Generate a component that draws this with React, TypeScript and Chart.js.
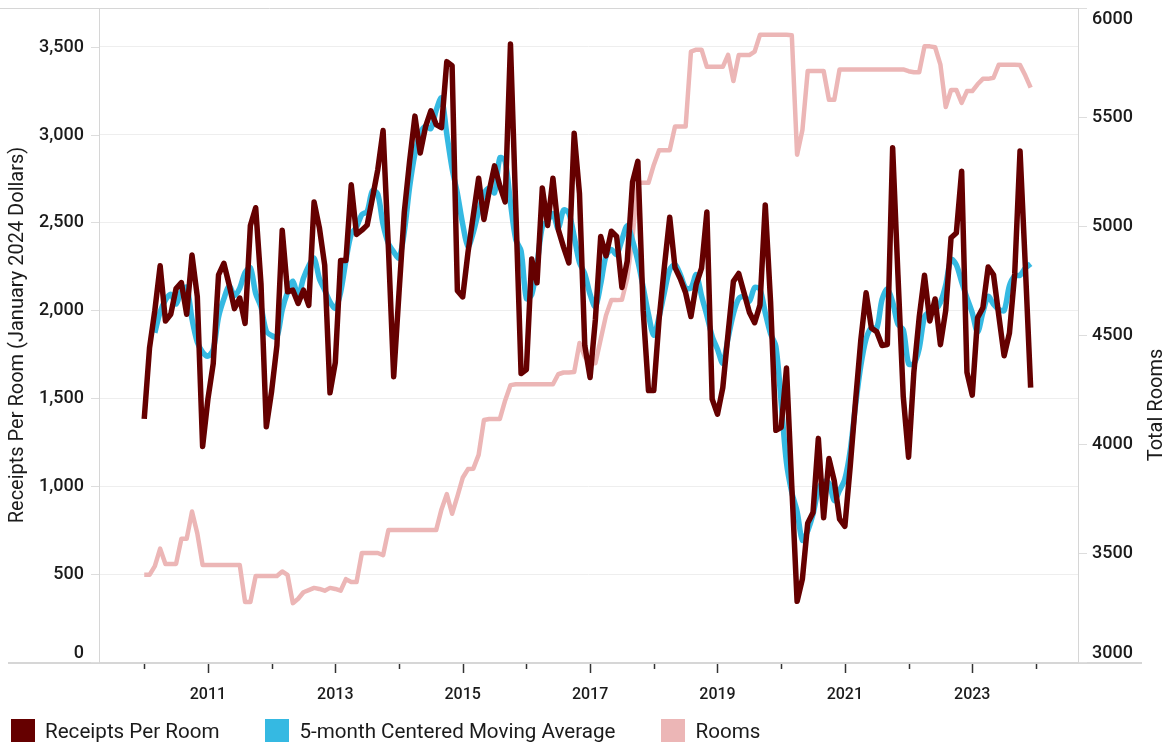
import { useEffect, useRef } from 'react';
import { Chart, registerables } from 'chart.js';

Chart.register(...registerables);

// ---- data (monthly, Jan 2010 – Dec 2023) ----
const START_YEAR = 2010;

const receipts = [
  1383, 1787, 2000, 2254, 1940, 1978, 2124, 2158, 1978, 2315,
  2079, 1226, 1495, 1697, 2202, 2268, 2146, 2010, 2070, 1926,
  2483, 2584, 2150, 1338, 1540, 1800, 2456, 2106, 2115, 2040,
  2115, 2028, 2616, 2470, 2258, 1531, 1704, 2284, 2284, 2714,
  2432, 2456, 2485, 2640, 2800, 3023, 2357, 1623, 2100, 2560,
  2850, 3105, 2895, 3045, 3135, 3057, 3040, 3415, 3392, 2112,
  2077, 2330, 2540, 2752, 2517, 2680, 2822, 2708, 2617, 3515,
  2580, 1641, 1664, 2292, 2157, 2696, 2483, 2752, 2461, 2360,
  2270, 3007, 2665, 1800, 1618, 1950, 2420, 2310, 2450, 2420,
  2130, 2280, 2730, 2848, 2000, 1544, 1544, 1950, 2250, 2530,
  2243, 2180, 2100, 1965, 2150, 2240, 2560, 1495, 1410, 1560,
  1870, 2165, 2210, 2100, 1990, 1930, 2030, 2600, 2050, 1318,
  1335, 1672, 1000, 345, 473, 790, 850, 1272, 820, 1157,
  1030, 813, 772, 1110, 1480, 1830, 2100, 1900, 1878, 1800,
  1806, 2925, 2200, 1510, 1165, 1650, 1960, 2200, 1940, 2065,
  1805, 2000, 2413, 2440, 2792, 1648, 1518, 1958, 2015, 2247,
  2203, 1970, 1742, 1870, 2210, 2907, 2250, 1560,
];

const movingAverage = [
  null, null, 1873, 1992, 2059, 2091, 2036, 2111, 2131, 1951,
  1819, 1762, 1740, 1778, 1962, 2065, 2139, 2084, 2127, 2215,
  2243, 2096, 2019, 1882, 1857, 1848, 2003, 2103, 2166, 2081,
  2183, 2254, 2297, 2181, 2116, 2049, 2012, 2103, 2284, 2434,
  2474, 2545, 2563, 2681, 2661, 2489, 2381, 2333, 2298, 2448,
  2702, 2891, 3006, 3047, 3034, 3138, 3208, 3003, 2807, 2665,
  2490, 2362, 2443, 2564, 2662, 2696, 2669, 2868, 2848, 2612,
  2403, 2338, 2067, 2090, 2258, 2476, 2510, 2550, 2465, 2570,
  2553, 2420, 2272, 2208, 2091, 2020, 2150, 2310, 2346, 2318,
  2402, 2482, 2398, 2280, 2133, 1977, 1858, 1964, 2103, 2231,
  2261, 2204, 2128, 2127, 2203, 2082, 1971, 1853, 1779, 1700,
  1843, 1981, 2067, 2079, 2052, 2130, 2120, 1986, 1867, 1795,
  1475, 1134, 965, 856, 692, 746, 841, 978, 1026, 1018,
  918, 976, 1041, 1201, 1458, 1684, 1838, 1902, 1897, 2062,
  2122, 2048, 1921, 1890, 1697, 1697, 1783, 1963, 1994, 2002,
  2045, 2145, 2290, 2259, 2162, 2071, 1986, 1877, 1988, 2079,
  2035, 2006, 1999, 2140, 2196, 2200, 2240, 2265,
];

const rooms = [
  3400, 3400, 3440, 3520, 3450, 3450, 3450, 3565, 3565, 3690,
  3590, 3445, 3445, 3445, 3445, 3445, 3445, 3445, 3445, 3275,
  3275, 3395, 3395, 3395, 3395, 3395, 3415, 3400, 3270, 3290,
  3320, 3330, 3340, 3335, 3327, 3340, 3335, 3327, 3380, 3367,
  3367, 3500, 3500, 3500, 3500, 3490, 3605, 3605, 3605, 3605,
  3605, 3605, 3605, 3605, 3605, 3605, 3700, 3770, 3680, 3760,
  3845, 3885, 3887, 3950, 4110, 4115, 4115, 4115, 4200, 4270,
  4274, 4274, 4274, 4274, 4274, 4274, 4274, 4274, 4320, 4328,
  4328, 4330, 4463, 4400, 4370, 4370, 4480, 4590, 4660, 4660,
  4662, 4760, 4950, 5198, 5198, 5198, 5280, 5347, 5347, 5347,
  5456, 5456, 5456, 5800, 5809, 5809, 5730, 5730, 5730, 5730,
  5785, 5665, 5784, 5784, 5784, 5800, 5877, 5877, 5877, 5877,
  5877, 5877, 5875, 5327, 5440, 5711, 5711, 5711, 5711, 5579,
  5579, 5718, 5718, 5718, 5718, 5718, 5718, 5718, 5718, 5718,
  5718, 5718, 5718, 5718, 5710, 5705, 5705, 5824, 5824, 5820,
  5740, 5546, 5624, 5624, 5565, 5619, 5619, 5650, 5675, 5675,
  5680, 5740, 5740, 5740, 5740, 5738, 5690, 5635,
];

const seriesLabels = ['Receipts Per Room', '5-month Centered Moving Average', 'Rooms'];
const tickYears = [2010, 2011, 2012, 2013, 2014, 2015, 2016, 2017, 2018, 2019, 2020, 2021, 2022, 2023, 2024];
const leftTicks = [0, 500, 1000, 1500, 2000, 2500, 3000, 3500];
const rightTicks = [3000, 3500, 4000, 4500, 5000, 5500, 6000];
const leftTitle = 'Receipts Per Room (January 2024 Dollars)';
const rightTitle = 'Total Rooms';

// ---- styling ----
const W = 1163;
const H = 742;
const FONT = 'Roboto, "Noto Sans", sans-serif';
const TEXT = '#1b1b1b';
const COLORS = ['#650000', '#35b9e2', '#ecb6b6'];
const FRAME = '#d6d6d6';
const GRID = '#eeeeee';
const X_MIN = 2009.29;
const X_MAX = 2024.66;
const LEFT_MIN = 0;
const LEFT_MAX = 3720;
const RIGHT_MIN = 3000;
const RIGHT_MAX = 6000;

const toPoints = (arr: (number | null)[]) =>
  arr.map((v, i) => ({ x: START_YEAR + i / 12, y: v }));

const setTicks = (values: number[]) => (s: any) => {
  s.ticks = values.map((value) => ({ value }));
};

const decorPlugin = {
  id: 'decor',
  afterDraw(chart: any) {
    const { ctx, chartArea: a, scales } = chart;
    ctx.save();

    // frame
    ctx.strokeStyle = FRAME;
    ctx.lineWidth = 1;
    ctx.beginPath();
    ctx.moveTo(0, a.top + 0.5);
    ctx.lineTo(a.right + 0.5, a.top + 0.5);
    ctx.moveTo(a.left + 0.5, a.top);
    ctx.lineTo(a.left + 0.5, a.bottom);
    ctx.moveTo(a.right + 0.5, a.top);
    ctx.lineTo(a.right + 0.5, a.bottom);
    ctx.stroke();
    ctx.lineWidth = 2;
    ctx.beginPath();
    ctx.moveTo(8, a.bottom + 1);
    ctx.lineTo(W - 21, a.bottom + 1);
    ctx.stroke();

    // x tick marks
    const xs = scales.x;
    ctx.strokeStyle = '#333333';
    ctx.lineWidth = 1.5;
    for (const yr of tickYears) {
      const px = Math.round(xs.getPixelForValue(yr)) + 0.5;
      const len = yr % 2 === 1 ? 9 : 5;
      ctx.beginPath();
      ctx.moveTo(px, a.bottom + 2);
      ctx.lineTo(px, a.bottom + 2 + len);
      ctx.stroke();
    }

    // y tick marks + labels
    const clampY = (y: number) => Math.min(Math.max(y, a.top + 11), a.bottom - 9);
    ctx.font = `500 18px ${FONT}`;
    ctx.fillStyle = TEXT;
    ctx.textBaseline = 'middle';

    const yl = scales.y;
    ctx.textAlign = 'right';
    for (const v of leftTicks) {
      const py = Math.round(yl.getPixelForValue(v)) + 0.5;
      ctx.strokeStyle = '#dddddd';
      ctx.lineWidth = 1;
      ctx.beginPath();
      ctx.moveTo(a.left - 8, py);
      ctx.lineTo(a.left, py);
      ctx.stroke();
      ctx.fillText(v.toLocaleString('en-US'), a.left - 15, clampY(py));
    }

    const yr = scales.y1;
    ctx.textAlign = 'left';
    for (const v of rightTicks) {
      const py = Math.round(yr.getPixelForValue(v)) + 0.5;
      ctx.strokeStyle = '#dddddd';
      ctx.lineWidth = 1;
      ctx.beginPath();
      ctx.moveTo(a.right + 1, py);
      ctx.lineTo(a.right + 9, py);
      ctx.stroke();
      ctx.fillText(String(v), a.right + 14, clampY(py));
    }

    // axis titles
    ctx.font = `20px ${FONT}`;
    ctx.textAlign = 'center';
    ctx.save();
    ctx.translate(17.5, (a.top + a.bottom) / 2);
    ctx.rotate(-Math.PI / 2);
    ctx.textBaseline = 'middle';
    ctx.fillText(leftTitle, 0, 0);
    ctx.restore();

    ctx.save();
    ctx.translate(W - 1, 405);
    ctx.rotate(-Math.PI / 2);
    ctx.textBaseline = 'alphabetic';
    ctx.fillText(rightTitle, 0, 0);
    ctx.restore();

    ctx.restore();
  },
};

export default function App() {
  const ref = useRef<HTMLCanvasElement>(null);

  useEffect(() => {
    if (!ref.current) return;
    const chart = new Chart(ref.current, {
      type: 'line',
      data: {
        datasets: [
          {
            label: seriesLabels[0],
            data: toPoints(receipts),
            yAxisID: 'y',
            borderColor: COLORS[0],
            backgroundColor: COLORS[0],
            borderWidth: 5.5,
            pointRadius: 0,
            tension: 0,
            borderJoinStyle: 'round',
            order: 0,
          },
          {
            label: seriesLabels[1],
            data: toPoints(movingAverage),
            yAxisID: 'y',
            borderColor: COLORS[1],
            backgroundColor: COLORS[1],
            borderWidth: 5.5,
            pointRadius: 0,
            tension: 0.3,
            borderJoinStyle: 'round',
            order: 1,
          },
          {
            label: seriesLabels[2],
            data: toPoints(rooms),
            yAxisID: 'y1',
            borderColor: COLORS[2],
            backgroundColor: COLORS[2],
            borderWidth: 4.5,
            pointRadius: 0,
            tension: 0,
            borderJoinStyle: 'round',
            order: 2,
          },
        ],
      },
      options: {
        animation: false,
        responsive: false,
        devicePixelRatio: 1,
        layout: { padding: { top: 8, left: 0, right: 0, bottom: 0 } },
        plugins: { legend: { display: false }, tooltip: { enabled: false } },
        scales: {
          x: {
            type: 'linear',
            min: X_MIN,
            max: X_MAX,
            grid: { display: false },
            border: { display: false },
            afterBuildTicks: setTicks(tickYears),
            ticks: {
              autoSkip: false,
              maxRotation: 0,
              padding: 15,
              color: TEXT,
              font: { family: FONT, size: 16, weight: '500' },
              callback: (v: any) => {
                const n = Math.round(Number(v));
                return n % 2 === 1 ? String(n) : '';
              },
            },
            afterFit: (s: any) => {
              s.height = 80;
            },
          },
          y: {
            type: 'linear',
            position: 'left',
            min: LEFT_MIN,
            max: LEFT_MAX,
            afterBuildTicks: setTicks(leftTicks),
            ticks: { display: false },
            grid: { color: GRID, drawTicks: false },
            border: { display: false },
            afterFit: (s: any) => {
              s.width = 99;
            },
          },
          y1: {
            type: 'linear',
            position: 'right',
            min: RIGHT_MIN,
            max: RIGHT_MAX,
            afterBuildTicks: setTicks(rightTicks),
            ticks: { display: false },
            grid: { display: false },
            border: { display: false },
            afterFit: (s: any) => {
              s.width = 85;
            },
          },
        },
      } as any,
      plugins: [decorPlugin],
    });
    return () => chart.destroy();
  }, []);

  return (
    <div
      style={{
        position: 'fixed',
        left: 0,
        top: 0,
        width: W,
        height: H,
        background: '#ffffff',
        overflow: 'hidden',
        fontFamily: FONT,
      }}
    >
      <canvas ref={ref} width={W} height={H} style={{ display: 'block', width: W, height: H }} />
      <div
        style={{
          position: 'absolute',
          left: 11,
          top: 719,
          display: 'flex',
          alignItems: 'flex-start',
          gap: 46,
          color: TEXT,
          fontSize: 20.6,
          lineHeight: '24px',
          whiteSpace: 'nowrap',
        }}
      >
        {seriesLabels.map((name, i) => (
          <div key={name} style={{ display: 'flex', alignItems: 'flex-start' }}>
            <div style={{ width: 24, height: 24, background: COLORS[i], marginRight: 10 }} />
            <span>{name}</span>
          </div>
        ))}
      </div>
    </div>
  );
}
